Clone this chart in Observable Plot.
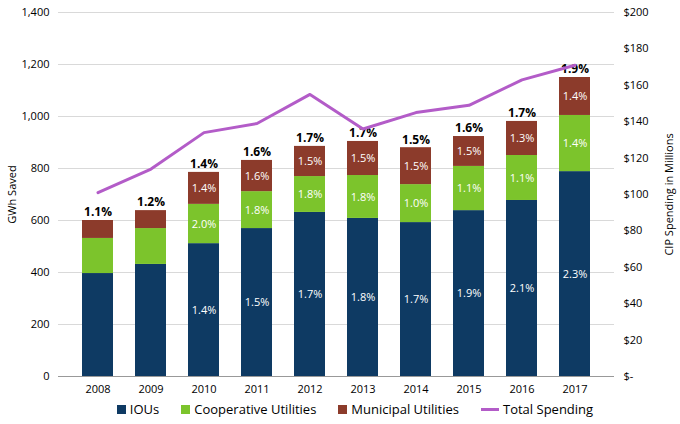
<!DOCTYPE html><html><head><meta charset="utf-8">
<script src="https://cdn.jsdelivr.net/npm/d3@7"></script>
<script src="https://cdn.jsdelivr.net/npm/@observablehq/plot@0.6"></script>
<style>body{margin:0;font-family:"Open Sans",sans-serif;background:#fff}
#leg{display:flex;justify-content:center;gap:22px;font-size:13px;margin-top:2px;margin-left:30px}
#leg span{display:flex;align-items:center;gap:4px}</style></head><body>
<div id="c"></div><div id="leg"></div>
<script>
const years=["2008","2009","2010","2011","2012","2013","2014","2015","2016","2017"];
const ious=[396,431,511,569,631,608,592,638,677,788];
const coop=[135,138,151,142,138,165,146,170,173,216];
const muni=[69,69,123,120,116,131,142,115,131,146];
const iouPct=["","","1.4%","1.5%","1.7%","1.8%","1.7%","1.9%","2.1%","2.3%"];
const coopPct=["","","2.0%","1.8%","1.8%","1.8%","1.0%","1.1%","1.1%","1.4%"];
const muniPct=["","","1.4%","1.6%","1.5%","1.5%","1.5%","1.5%","1.3%","1.4%"];
const totalPct=["1.1%","1.2%","1.4%","1.6%","1.7%","1.7%","1.5%","1.6%","1.7%","1.9%"];
const spending=[101,114,134,139,155,136,145,149,163,171];
const series=[["IOUs",ious,iouPct,"#0e3a63"],["Cooperative Utilities",coop,coopPct,"#7cc42c"],["Municipal Utilities",muni,muniPct,"#8c3b2b"]];
const rows=[];
years.forEach((y,i)=>{let b=0;series.forEach(([n,v,p])=>{rows.push({year:y,s:n,v:v[i],y1:b,y2:b+v[i],lab:p[i]});b+=v[i];});});
const tops=years.map((y,i)=>({year:y,t:ious[i]+coop[i]+muni[i],lab:totalPct[i],sp:spending[i]*7}));
const k=7;
const chart=Plot.plot({width:680,height:398,marginLeft:58,marginRight:66,marginTop:12,marginBottom:22,
 x:{domain:years,padding:0.42,label:null},
 y:{domain:[0,1400],label:null},
 color:{domain:series.map(s=>s[0]),range:series.map(s=>s[3])},
 style:{fontFamily:"Open Sans",fontSize:"11px"},
 marks:[
  Plot.gridY(d3.range(0,1401,200),{stroke:"#d9d9d9",strokeOpacity:1}),
  Plot.axisY(d3.range(0,1401,200),{tickFormat:d3.format(","),tickSize:0,fontSize:11,label:"GWh Saved",labelAnchor:"center",labelArrow:"none",labelOffset:50}),
  Plot.axisY(d3.range(0,1401,140),{anchor:"right",tickSize:0,fontSize:11,tickFormat:d=>d===0?"$-":"$"+Math.round(d/k),label:"CIP Spending in Millions",labelAnchor:"center",labelArrow:"none",labelOffset:58}),
  Plot.axisX({tickSize:0,fontSize:11}),
  Plot.barY(rows,{x:"year",y1:"y1",y2:"y2",fill:"s"}),
  Plot.text(rows,{x:"year",y:d=>(d.y1+d.y2)/2,text:"lab",fill:"white",fontSize:11}),
  Plot.text(tops,{x:"year",y:"t",text:"lab",dy:-8,fontWeight:"bold",fontSize:12,fill:"#000"}),
  Plot.ruleY([0],{stroke:"#999"}),
  Plot.line(tops,{x:"year",y:"sp",stroke:"#b35cc8",strokeWidth:3})
 ]});
document.getElementById("c").append(chart);
const leg=document.getElementById("leg");
series.forEach(([n,,,c])=>leg.insertAdjacentHTML("beforeend",`<span><i style="display:inline-block;width:9px;height:9px;background:${c}"></i>${n}</span>`));
leg.insertAdjacentHTML("beforeend",`<span><i style="display:inline-block;width:18px;height:3px;background:#b35cc8"></i>Total Spending</span>`);
</script></body></html>
